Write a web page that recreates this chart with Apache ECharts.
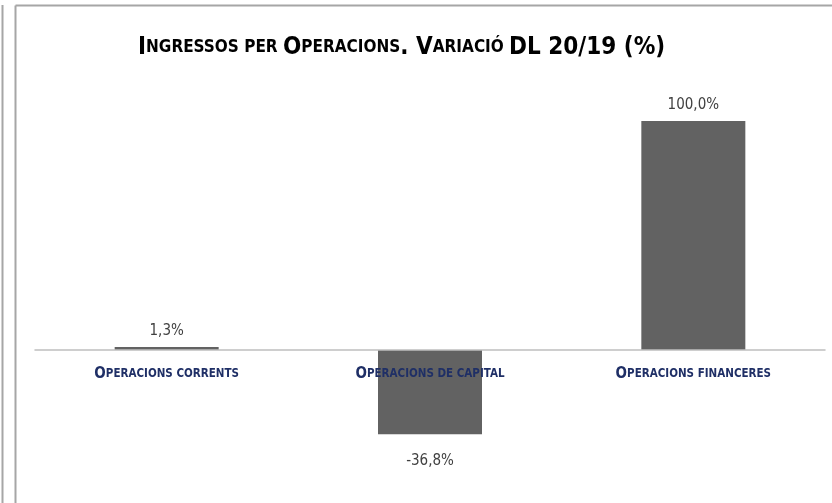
<!DOCTYPE html>
<html>
<head>
<meta charset="utf-8">
<script src="https://cdn.jsdelivr.net/npm/echarts@6/dist/echarts.min.js"></script>
<style>
    html, body {margin: 0; padding: 0; background: #fff;}
    #chart {width: 832px; height: 503px;}
</style>
</head>
<body>
<div id="chart"></div>
<script>
const titleText = 'Ingressos per Operacions. Variació DL 20/19 (%)'
const categories = ['Operacions corrents', 'Operacions de capital', 'Operacions financeres']
const values = [1.3, -36.8, 100.0]

const FONT = "'DejaVu Sans Condensed', 'Open Sans', sans-serif"

// turn mixed case text into fake small caps with rich text
function smallCaps(txt){
    let out = ''
    let run = ''
    let runLower = null
    for(let i = 0;i<txt.length;i++){
        const c = txt[i]
        const isLower = c !== c.toUpperCase()
        const lower = (c === ' ') ? runLower : isLower
        if(runLower !== null && lower !== runLower){
            out += '{' + (runLower ? 's' : 'b') + '|' + run.toUpperCase() + '}'
            run = ''
        }
        run += c
        runLower = lower
    }
    if(run) out += '{' + (runLower ? 's' : 'b') + '|' + run.toUpperCase() + '}'
    return out
}

function fmt(v){
    return v.toFixed(1).replace('.', ',') + '%'
}

const barData = values.map(v => ({
    value: v,
    label: v < 0 ? {position: 'bottom', distance: 19} : {position: 'top', distance: 8}
}))

const yMin = -40
const yMax = 100
const gridTop = 121
const gridBottom = 61.4
// move the category axis up to the zero line
const zeroOffset = -(503 - gridTop - gridBottom) * (0 - yMin) / (yMax - yMin)

const myChart = echarts.init(document.getElementById('chart'))
myChart.setOption({
    animation: false,
    title: {
        text: smallCaps(titleText),
        left: 133,
        top: 31,
        textStyle: {
            rich: {
                b: {fontSize: 24, fontWeight: 'bold', color: '#000', fontFamily: FONT},
                s: {fontSize: 17, fontWeight: 'bold', color: '#000', fontFamily: FONT}
            }
        }
    },
    graphic: [
        {type: 'line', shape: {x1: 2.5, y1: 5, x2: 2.5, y2: 503}, style: {stroke: '#a6a6a6', lineWidth: 2}},
        {type: 'line', shape: {x1: 15.5, y1: 5.5, x2: 832, y2: 5.5}, style: {stroke: '#a6a6a6', lineWidth: 2}},
        {type: 'line', shape: {x1: 15.5, y1: 5.5, x2: 15.5, y2: 503}, style: {stroke: '#a6a6a6', lineWidth: 2}}
    ],
    grid: {left: 35, right: 7, top: gridTop, bottom: gridBottom},
    xAxis: {
        type: 'category',
        data: categories,
        offset: zeroOffset,
        z: 5,
        axisTick: {show: false},
        axisLine: {onZero: false, lineStyle: {color: '#bfbfbf', width: 1.5}},
        axisLabel: {
            margin: 17,
            formatter: smallCaps,
            rich: {
                b: {fontSize: 15, fontWeight: 'bold', color: '#1f2f66', fontFamily: FONT},
                s: {fontSize: 11.5, fontWeight: 'bold', color: '#1f2f66', fontFamily: FONT}
            }
        }
    },
    yAxis: {
        type: 'value',
        min: yMin,
        max: yMax,
        show: false,
        splitLine: {show: false}
    },
    series: [
        {
            type: 'bar',
            data: barData,
            barWidth: 104,
            itemStyle: {color: '#626262'},
            label: {
                show: true,
                color: '#404040',
                fontSize: 15,
                fontFamily: FONT,
                formatter: p => fmt(p.value)
            }
        }
    ]
})
</script>
</body>
</html>
